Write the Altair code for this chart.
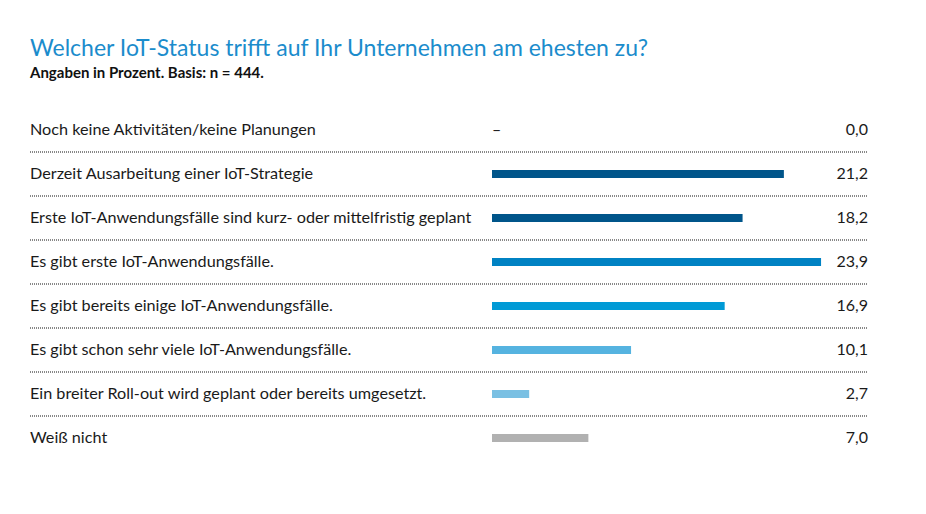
import altair as alt
import pandas as pd

categories = [
    "Noch keine Aktivitäten/keine Planungen",
    "Derzeit Ausarbeitung einer IoT-Strategie",
    "Erste IoT-Anwendungsfälle sind kurz- oder mittelfristig geplant",
    "Es gibt erste IoT-Anwendungsfälle.",
    "Es gibt bereits einige IoT-Anwendungsfälle.",
    "Es gibt schon sehr viele IoT-Anwendungsfälle.",
    "Ein breiter Roll-out wird geplant oder bereits umgesetzt.",
    "Weiß nicht",
]
values = [0.0, 21.2, 18.2, 23.9, 16.9, 10.1, 2.7, 7.0]
colors = ["#00558a", "#00558a", "#00558a", "#0082c3", "#009ad6", "#55b3e0", "#7ac0e3", "#b1b1b1"]

df = pd.DataFrame({"cat": categories, "val": values, "color": colors})
df["label"] = df["val"].map(lambda v: f"{v:.1f}".replace(".", ","))
df["dash"] = df["val"].map(lambda v: "–" if v == 0 else "")
df["last"] = [False] * (len(df) - 1) + [True]

FONT = "Lato"
y = alt.Y("cat:N", sort=categories, axis=None,
          scale=alt.Scale(paddingInner=0, paddingOuter=0))

base = alt.Chart(df)

bars = base.transform_filter("datum.val > 0").mark_bar(size=8).encode(
    x=alt.X("val:Q", axis=None, scale=alt.Scale(domain=[0, 25], range=[462, 806.2])),
    y=y,
    color=alt.Color("color:N", scale=None),
)

dash = base.mark_text(align="left", baseline="middle", font=FONT, fontSize=16, color="#1a1a1a").encode(
    x=alt.value(462), y=y, text="dash:N")

labels = base.mark_text(align="left", baseline="middle", font=FONT, fontSize=16.2, color="#1a1a1a").encode(
    x=alt.value(0), y=y, text="cat:N")

vals = base.mark_text(align="right", baseline="middle", font=FONT, fontSize=16, color="#1a1a1a").encode(
    x=alt.value(838), y=y, text="label:N")

seps = base.transform_filter("!datum.last").mark_rule(
    strokeDash=[1, 1], color="#111111", strokeWidth=1).encode(
    x=alt.value(0), x2=alt.value(838),
    y=alt.Y("cat:N", sort=categories, axis=None, bandPosition=1,
            scale=alt.Scale(paddingInner=0, paddingOuter=0)))

chart = alt.layer(seps, bars, dash, labels, vals).properties(
    width=838, height=352,
    autosize=alt.AutoSizeParams(type="none"),
    padding={"left": 22, "top": 100, "right": 50, "bottom": 40},
    title=alt.TitleParams(
        text="Welcher IoT-Status trifft auf Ihr Unternehmen am ehesten zu?",
        subtitle="Angaben in Prozent. Basis: n = 444.",
        anchor="start", frame="group", offset=27,
        font=FONT, fontSize=23, fontWeight="normal", color="#1b8ccc",
        subtitleFont=FONT, subtitleFontSize=15, subtitleFontWeight="bold",
        subtitleColor="#111111", subtitlePadding=5,
    ),
).configure_view(stroke=None)

chart.save("out.html", embed_options={"renderer": "svg", "actions": False})
